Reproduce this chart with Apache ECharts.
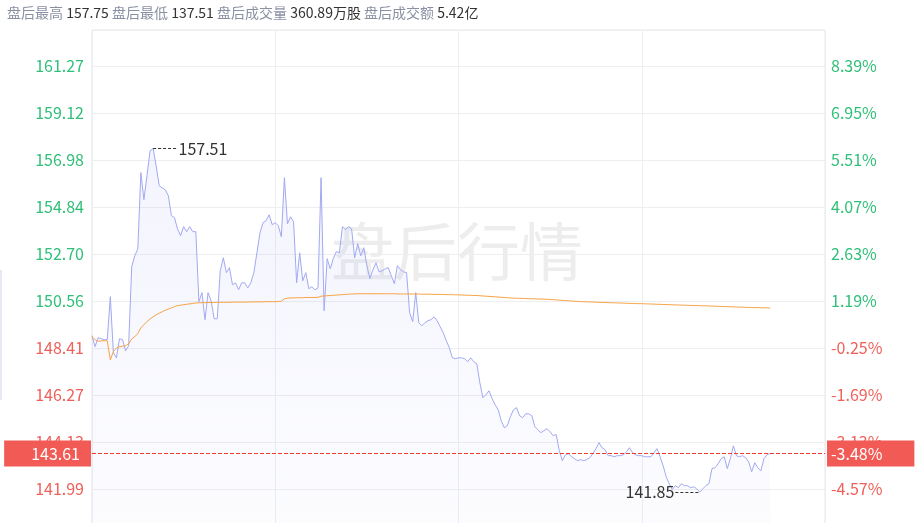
<!DOCTYPE html>
<html>
<head>
<meta charset="utf-8">
<style>
html,body{margin:0;padding:0;background:#ffffff;}
#chart{width:915px;height:523px;}
</style>
<script src="https://cdn.jsdelivr.net/npm/echarts@6/dist/echarts.min.js"></script>
</head>
<body>
<div id="chart"></div>
<script>
// ---------- data ----------
var prevClose = 148.78;
var lastPrice = 143.61;
var lastPriceText = '143.61';
var lastPctText = '-3.48%';
var maxPrice = 157.51, maxIndex = 20;
var minPrice = 141.85, minIndex = 199;

var headerLabels = ['盘后最高', '盘后最低', '盘后成交量', '盘后成交额'];
var headerValues = ['157.75', '137.51', '360.89万股', '5.42亿'];

var leftTickLabels = ['139.85','141.99','144.13','146.27','148.41','150.56','152.70','154.84','156.98','159.12','161.27'];
var rightTickLabels = ['-6.01%','-4.57%','-3.13%','-1.69%','-0.25%','1.19%','2.63%','4.07%','5.51%','6.95%','8.39%'];

var priceData = [
148.98,148.48,148.89,148.84,148.80,148.80,150.76,148.20,147.97,148.84,
148.80,148.29,148.52,152.12,152.62,152.94,156.41,155.18,156.27,157.40,
157.51,156.73,155.81,155.72,155.63,155.36,154.45,154.36,153.85,153.54,
153.95,153.72,153.95,153.72,153.72,150.53,150.94,149.71,150.94,150.57,
149.75,149.75,151.94,152.53,151.85,152.08,151.30,151.39,151.07,151.39,
151.39,151.16,151.39,151.85,152.76,153.67,154.13,154.22,154.49,154.04,
154.13,153.99,153.49,156.18,154.08,154.40,154.17,151.39,152.76,151.48,
151.85,151.12,151.21,151.07,151.16,156.18,150.12,152.49,152.03,152.49,
152.81,152.76,153.95,153.81,153.95,153.85,152.53,153.17,152.62,152.99,
152.17,151.58,151.99,152.30,151.89,151.94,152.03,152.08,151.71,151.35,
152.17,151.99,151.89,151.85,150.03,149.62,150.94,149.57,149.43,149.57,
149.66,149.71,149.84,149.66,149.39,149.11,148.75,148.43,147.97,147.93,
147.97,147.97,147.93,147.79,147.97,147.79,147.70,146.83,146.15,146.29,
146.47,146.11,145.83,145.60,145.10,144.78,144.88,145.29,145.60,145.70,
145.33,145.24,145.42,145.42,145.33,144.83,144.69,144.56,144.65,144.74,
144.60,144.42,144.47,143.74,143.28,143.55,143.60,143.46,143.37,143.28,
143.33,143.28,143.33,143.42,143.60,143.83,144.10,143.87,143.78,143.51,
143.51,143.46,143.51,143.51,143.55,143.69,143.87,143.64,143.55,143.51,
143.51,143.46,143.46,143.46,143.64,143.83,143.46,143.05,142.55,142.23,
141.96,142.14,142.05,142.23,142.14,142.14,142.05,142.09,142.00,141.85,
142.00,142.14,142.23,142.92,142.96,143.14,143.37,143.46,142.92,143.37,
143.96,143.51,143.46,143.51,143.42,143.23,142.78,143.19,142.96,142.82,
143.37,143.55,143.61
];

var avgData = [
148.93,148.80,148.72,148.74,148.75,148.74,147.88,148.25,148.42,148.48,
148.50,148.52,148.60,148.83,148.93,149.08,149.33,149.48,149.62,149.74,
149.84,149.93,150.00,150.07,150.14,150.19,150.25,150.30,150.35,150.37,
150.39,150.41,150.43,150.45,150.47,150.48,150.48,150.48,150.49,150.49,
150.49,150.50,150.50,150.50,150.50,150.50,150.51,150.51,150.51,150.51,
150.51,150.51,150.52,150.52,150.52,150.52,150.52,150.53,150.53,150.53,
150.53,150.54,150.55,150.66,150.69,150.70,150.70,150.71,150.71,150.71,
150.72,150.72,150.72,150.72,150.73,150.78,150.79,150.80,150.81,150.82,
150.83,150.84,150.85,150.86,150.87,150.88,150.88,150.89,150.89,150.89,
150.89,150.89,150.89,150.89,150.89,150.89,150.89,150.89,150.89,150.89,
150.88,150.88,150.88,150.88,150.88,150.88,150.88,150.88,150.87,150.87,
150.87,150.87,150.86,150.86,150.86,150.86,150.85,150.85,150.85,150.84,
150.84,150.83,150.83,150.82,150.82,150.81,150.81,150.80,150.79,150.78,
150.77,150.76,150.75,150.74,150.73,150.72,150.71,150.70,150.69,150.69,
150.68,150.68,150.67,150.67,150.66,150.66,150.65,150.65,150.64,150.64,
150.63,150.62,150.61,150.60,150.59,150.58,150.57,150.56,150.55,150.54,
150.53,150.53,150.52,150.52,150.51,150.51,150.50,150.50,150.49,150.49,
150.48,150.48,150.47,150.47,150.46,150.46,150.45,150.45,150.44,150.44,
150.44,150.43,150.43,150.42,150.42,150.41,150.41,150.40,150.40,150.39,
150.39,150.38,150.38,150.37,150.37,150.36,150.36,150.35,150.35,150.35,
150.34,150.34,150.33,150.33,150.32,150.32,150.31,150.31,150.30,150.30,
150.29,150.29,150.28,150.28,150.27,150.27,150.26,150.26,150.26,150.25,
150.25,150.25,150.24
];

// time categories 16:00 .. 20:00 (one per minute)
var categories = [];
for (var m = 0; m <= 240; m++) {
  var h = 16 + Math.floor(m / 60), mm = m % 60;
  categories.push(h + ':' + (mm < 10 ? '0' : '') + mm);
}

// axis scale settings
var yInterval = 2.1422;
var yMin = 139.848;
var yMax = 162.913;

// ---------- chart ----------
var GREEN = '#2fbf78', RED = '#f0605a', BOX_RED = '#f25a55', DASH_RED = '#f03a34';
var FONT = '"Noto Sans CJK SC", "Noto Sans", sans-serif';

var headerText = headerLabels.map(function (l, i) {
  return '{l|' + l + '} {v|' + headerValues[i] + '}';
}).join(' ');

var chart = echarts.init(document.getElementById('chart'), null, {renderer: 'canvas'});
chart.setOption({
  animation: false,
  backgroundColor: '#ffffff',
  textStyle: {fontFamily: FONT},
  title: {
    text: headerText,
    left: 2, top: 1,
    textStyle: {
      fontSize: 14, fontWeight: 'normal', fontFamily: FONT,
      rich: {
        l: {color: '#8a90a2', fontSize: 14, fontFamily: FONT},
        v: {color: '#333333', fontSize: 14, fontFamily: FONT}
      }
    }
  },
  graphic: [
    {type: 'rect', left: 0, top: 270, shape: {width: 2, height: 130}, style: {fill: '#e6eaf0'}, z: 0},
    {type: 'text', left: 331, top: 220, z: 0,
      style: {text: '盘后行情', font: '63px "Noto Sans CJK SC"', fill: 'rgba(150,150,150,0.17)'}}
  ],
  grid: {
    left: 92, right: 90, top: 30, height: 506,
    outerBoundsMode: 'none', containLabel: false,
    show: true, borderColor: '#e4e7ee', borderWidth: 1, backgroundColor: 'transparent'
  },
  xAxis: {
    type: 'category',
    data: categories,
    boundaryGap: false,
    axisLine: {show: false},
    axisTick: {show: false},
    axisLabel: {show: false},
    splitLine: {
      show: true,
      interval: function (idx) { return idx % 60 === 0; },
      lineStyle: {color: '#eceef2', width: 1}
    }
  },
  yAxis: [
    {
      type: 'value', min: yMin, max: yMax, interval: yInterval, position: 'left',
      axisLine: {show: false}, axisTick: {show: false},
      splitLine: {lineStyle: {color: '#eeeeee', width: 1}},
      axisLabel: {
        margin: 8, fontSize: 16, fontFamily: FONT,
        formatter: function (v, i) {
          var t = leftTickLabels[i];
          if (t === undefined) return '';
          return (v >= prevClose ? '{g|' : '{r|') + t + '}';
        },
        rich: {g: {color: GREEN, fontSize: 16, fontFamily: FONT}, r: {color: RED, fontSize: 16, fontFamily: FONT}}
      }
    },
    {
      type: 'value', min: yMin, max: yMax, interval: yInterval, position: 'right',
      axisLine: {show: false}, axisTick: {show: false},
      splitLine: {show: false},
      axisLabel: {
        margin: 6, fontSize: 16, fontFamily: FONT,
        formatter: function (v, i) {
          var t = rightTickLabels[i];
          if (t === undefined) return '';
          return (v >= prevClose ? '{g|' : '{r|') + t + '}';
        },
        rich: {g: {color: GREEN, fontSize: 16, fontFamily: FONT}, r: {color: RED, fontSize: 16, fontFamily: FONT}}
      }
    }
  ],
  series: [
    {
      name: '价格', type: 'line', data: priceData, yAxisIndex: 0,
      symbol: 'none', clip: false, z: 3,
      lineStyle: {color: '#a2a9f2', width: 1},
      areaStyle: {
        origin: 'start',
        color: new echarts.graphic.LinearGradient(0, 0, 0, 1, [
          {offset: 0, color: 'rgba(150,158,240,0.16)'},
          {offset: 1, color: 'rgba(150,158,240,0.04)'}
        ])
      },
      markLine: {
        silent: true, symbol: ['none', 'none'], animation: false,
        data: [
          [
            {coord: [categories[maxIndex], maxPrice],
              lineStyle: {color: '#333333', type: [3, 2], width: 1},
              label: {show: true, position: 'end', distance: 1, formatter: String(maxPrice.toFixed(2)),
                color: '#333333', fontSize: 16, fontFamily: FONT}},
            {coord: [categories[maxIndex + 8], maxPrice]}
          ],
          [
            {coord: [categories[minIndex - 8], minPrice],
              lineStyle: {color: '#333333', type: [3, 2], width: 1},
              label: {show: true, position: 'start', distance: 1, formatter: String(minPrice.toFixed(2)),
                color: '#333333', fontSize: 16, fontFamily: FONT}},
            {coord: [categories[minIndex], minPrice]}
          ]
        ]
      }
    },
    {
      name: '均价', type: 'line', data: avgData, yAxisIndex: 0,
      symbol: 'none', z: 4,
      lineStyle: {color: '#f7a243', width: 1},
      markLine: {
        silent: true, symbol: ['none', 'none'], animation: false, z: 6,
        lineStyle: {color: DASH_RED, type: 'dashed', width: 1, opacity: 1},
        data: [
          {yAxis: lastPrice,
            label: {show: true, position: 'start', distance: 1, formatter: lastPriceText,
              color: '#ffffff', fontSize: 16, fontFamily: FONT, backgroundColor: BOX_RED,
              padding: [5, 11, 5, 27], lineHeight: 16}},
          {yAxis: lastPrice,
            label: {show: true, position: 'end', distance: 2, formatter: lastPctText,
              color: '#ffffff', fontSize: 16, fontFamily: FONT, backgroundColor: BOX_RED,
              padding: [5, 32, 5, 4], lineHeight: 16}}
        ]
      }
    }
  ]
});
</script>
</body>
</html>
